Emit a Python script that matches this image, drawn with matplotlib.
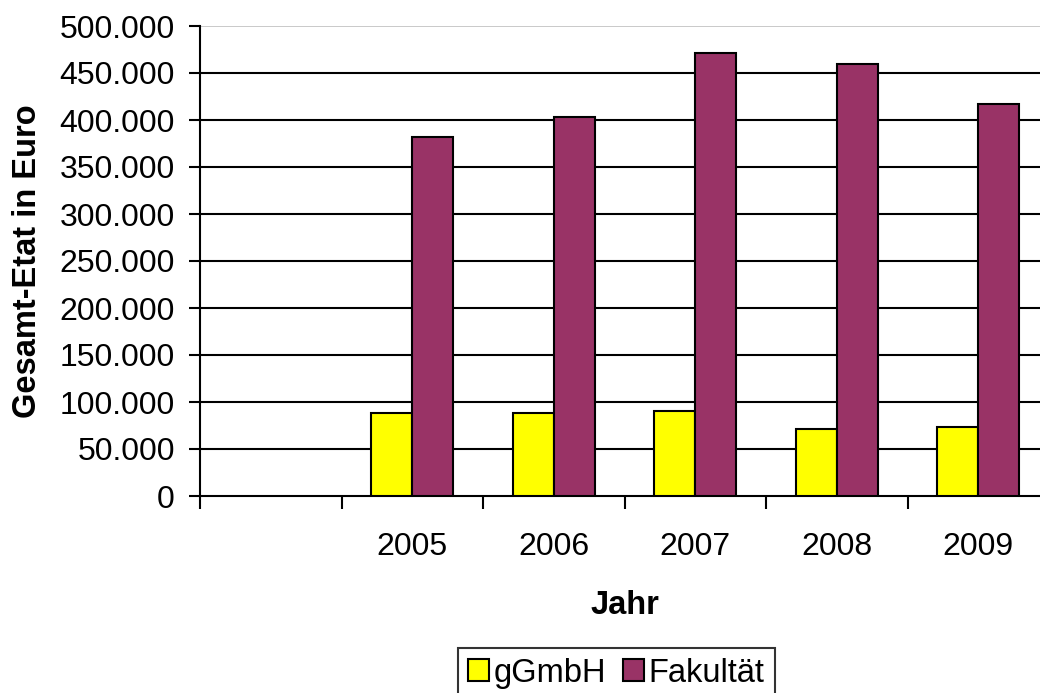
import numpy as np
import matplotlib.pyplot as plt
from matplotlib.ticker import FuncFormatter

plt.rcParams['font.family'] = ['Liberation Sans', 'DejaVu Sans']

# Data (first category is empty in the original chart)
years = ["", "2005", "2006", "2007", "2008", "2009"]
ggmbh = [0, 87900, 87900, 90000, 71200, 73600]
fakultaet = [0, 381700, 402700, 471000, 460000, 417000]

yellow = "#FFFF00"
purple = "#993366"

fig = plt.figure(figsize=(10.4, 6.93), dpi=100)
# axes extends slightly past the right edge, as in the reference
ax = fig.add_axes([200 / 1040, 197 / 693, 849 / 1040, 470 / 693])

x = np.arange(len(years))
w = 0.29
ax.bar(x[1:] - w / 2, ggmbh[1:], w, color=yellow, edgecolor="black", linewidth=1.5,
       label="gGmbH", zorder=3)
ax.bar(x[1:] + w / 2, fakultaet[1:], w, color=purple, edgecolor="black", linewidth=1.5,
       label="Fakultät", zorder=3)

ax.set_xlim(-0.5, len(years) - 0.5)
ax.set_ylim(0, 500000)

# gridlines
for v in range(50000, 500000, 50000):
    ax.axhline(v, color="black", linewidth=1.5, zorder=1)
ax.axhline(500000, color="#c0c0c0", linewidth=1.2, zorder=1)

ax.spines["top"].set_visible(False)
ax.spines["right"].set_visible(False)
ax.spines["left"].set_linewidth(1.5)
ax.spines["bottom"].set_linewidth(1.5)

ax.set_yticks(range(0, 500001, 50000))
ax.yaxis.set_major_formatter(FuncFormatter(lambda v, p: f"{int(v):,}".replace(",", ".")))
ax.tick_params(axis="y", length=8, width=1.5, labelsize=23, pad=10)

ax.set_xticks(x)
ax.set_xticklabels(years)
ax.set_xticks(np.arange(-0.5, len(years) - 0.4, 1), minor=True)
ax.tick_params(axis="x", which="major", length=0, labelsize=23, pad=26)
ax.tick_params(axis="x", which="minor", length=9, width=1.5, direction="out")

ax.set_xlabel("Jahr", fontsize=23.5, fontweight="bold", labelpad=20)
ax.set_ylabel("Gesamt-Etat in Euro", fontsize=23.5, fontweight="bold", labelpad=12)

leg = fig.legend(loc="upper left", bbox_to_anchor=(458 / 1040, 45 / 693), ncol=2,
                 fontsize=23.5, frameon=True, fancybox=False, edgecolor="black",
                 handlelength=0.65, handleheight=0.65, handletextpad=0.15,
                 columnspacing=0.5, borderpad=0.3, borderaxespad=0)
leg.get_frame().set_linewidth(1.5)

fig.savefig("out.png", dpi=100)
